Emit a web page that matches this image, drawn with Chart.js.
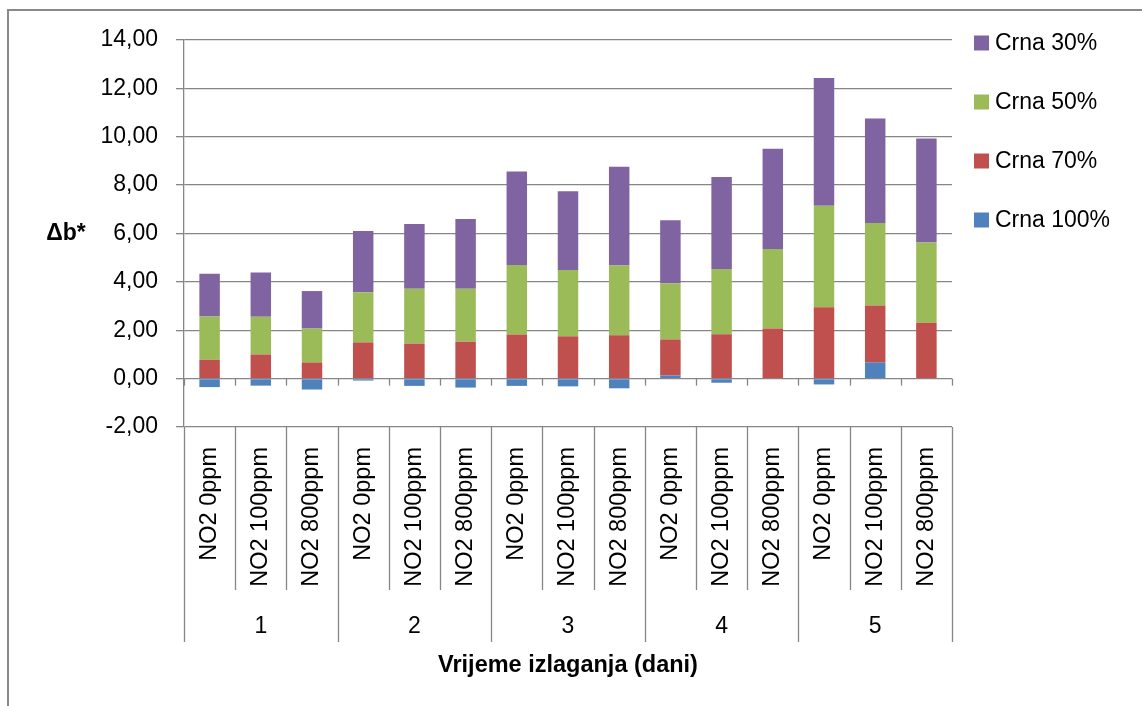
<!DOCTYPE html>
<html>
<head>
<meta charset="utf-8">
<script src="https://cdn.jsdelivr.net/npm/chart.js@4/dist/chart.umd.min.js"></script>
<style>
  html, body { margin: 0; padding: 0; background: #fff; }
  #wrap { position: relative; width: 1142px; height: 706px; overflow: hidden; }
  #frame { position: absolute; left: 7px; top: 9px; width: 1200px; height: 800px; border: 2px solid #898989; box-sizing: border-box; }
  canvas { position: absolute; left: 0; top: 0; }
</style>
</head>
<body>
<div id="wrap">
  <div id="frame"></div>
  <canvas id="c" width="1142" height="706"></canvas>
</div>
<script>
const categories = ['NO2 0ppm','NO2 100ppm','NO2 800ppm','NO2 0ppm','NO2 100ppm','NO2 800ppm','NO2 0ppm','NO2 100ppm','NO2 800ppm','NO2 0ppm','NO2 100ppm','NO2 800ppm','NO2 0ppm','NO2 100ppm','NO2 800ppm'];
const groups = ['1','2','3','4','5'];
const seriesNames = ['Crna 100%','Crna 70%','Crna 50%','Crna 30%'];
const crna100 = [-0.35,-0.29,-0.45,-0.08,-0.30,-0.37,-0.30,-0.32,-0.40,0.13,-0.17,0.00,-0.24,0.67,0.00];
const crna70  = [0.78,1.00,0.67,1.50,1.45,1.53,1.82,1.75,1.79,1.49,1.83,2.07,2.95,2.35,2.31];
const crna50  = [1.79,1.56,1.40,2.07,2.27,2.19,2.88,2.74,2.89,2.32,2.70,3.29,4.20,3.41,3.32];
const crna30  = [1.77,1.83,1.55,2.53,2.67,2.88,3.86,3.26,4.08,2.61,3.81,4.14,5.28,4.32,4.30];
const yTicks = [-2,0,2,4,6,8,10,12,14];
const colors = ['#4F81BD','#C0504D','#9BBB59','#8064A2'];
const axisTitleX = 'Vrijeme izlaganja (dani)';
const axisTitleY = 'Δb*';

const FONT = "'Liberation Sans', Arial, sans-serif";
const GRID = '#868686';

const decor = {
  id: 'decor',
  afterDraw(chart) {
    const ctx = chart.ctx;
    const xs = chart.scales.x, ys = chart.scales.y;
    const n = categories.length;
    const w = (xs.right - xs.left) / n;
    const y0 = ys.getPixelForValue(0);
    const yb = ys.bottom;
    ctx.save();
    ctx.strokeStyle = GRID;
    ctx.lineWidth = 1.3;
    // tick marks at zero line
    for (let i = 0; i <= n; i++) {
      const x = Math.round(xs.left + i * w) + 0.5;
      ctx.beginPath(); ctx.moveTo(x, y0); ctx.lineTo(x, y0 + 7); ctx.stroke();
    }
    // dividers under the axis
    for (let i = 0; i <= n; i++) {
      const x = Math.round(xs.left + i * w) + 0.5;
      const len = (i % 3 === 0) ? 215 : 163;
      ctx.beginPath(); ctx.moveTo(x, yb); ctx.lineTo(x, yb + len); ctx.stroke();
    }
    // group labels
    ctx.fillStyle = '#000';
    ctx.font = "23px " + FONT;
    ctx.textAlign = 'center';
    ctx.textBaseline = 'middle';
    groups.forEach((g, gi) => {
      const x = xs.left + (gi * 3 + 1.5) * w;
      ctx.fillText(g, x, yb + 200);
    });
    // x title
    ctx.font = "bold 23.5px " + FONT;
    ctx.fillText(axisTitleX, (xs.left + xs.right) / 2, yb + 239);
    // y title (horizontal)
    ctx.font = "bold 23px " + FONT;
    ctx.fillText(axisTitleY, 66, (ys.top + ys.bottom) / 2);
    // legend
    ctx.font = "23px " + FONT;
    ctx.textAlign = 'left';
    const ds = chart.data.datasets.slice().reverse();
    ds.forEach((d, i) => {
      const cy = 43 + i * 59;
      ctx.fillStyle = d.backgroundColor;
      ctx.fillRect(974, cy - 7.5, 15, 15);
      ctx.fillStyle = '#000';
      ctx.fillText(d.label, 995, cy + 1);
    });
    ctx.restore();
  }
};

new Chart(document.getElementById('c'), {
  type: 'bar',
  data: {
    labels: categories,
    datasets: [crna100, crna70, crna50, crna30].map((vals, i) => ({
      label: seriesNames[i],
      data: vals,
      backgroundColor: colors[i],
      borderWidth: 0,
      barPercentage: 0.4,
      categoryPercentage: 1.0
    }))
  },
  options: {
    responsive: false,
    animation: false,
    devicePixelRatio: 1,
    layout: { padding: { top: 40, right: 190, bottom: 0, left: 0 } },
    plugins: {
      legend: { display: false },
      tooltip: { enabled: false }
    },
    scales: {
      x: {
        stacked: true,
        grid: { display: false, drawTicks: false },
        border: { display: false },
        ticks: {
          autoSkip: false,
          minRotation: 90,
          maxRotation: 90,
          padding: 20,
          color: '#000',
          font: { family: FONT, size: 23.5 }
        },
        afterFit(scale) { scale.height = 706 - 427; }
      },
      y: {
        stacked: true,
        min: -2,
        max: 14,
        afterBuildTicks(scale) { scale.ticks = yTicks.map(v => ({ value: v })); },
        grid: { color: GRID, lineWidth: 1.3, tickLength: 8, drawTicks: true },
        border: { display: true, color: GRID, width: 1.3 },
        ticks: {
          padding: 18,
          color: '#000',
          font: { family: FONT, size: 23 },
          callback: v => v.toFixed(2).replace('.', ',')
        },
        afterFit(scale) { scale.width = 184; }
      }
    }
  },
  plugins: [decor]
});
</script>
</body>
</html>
